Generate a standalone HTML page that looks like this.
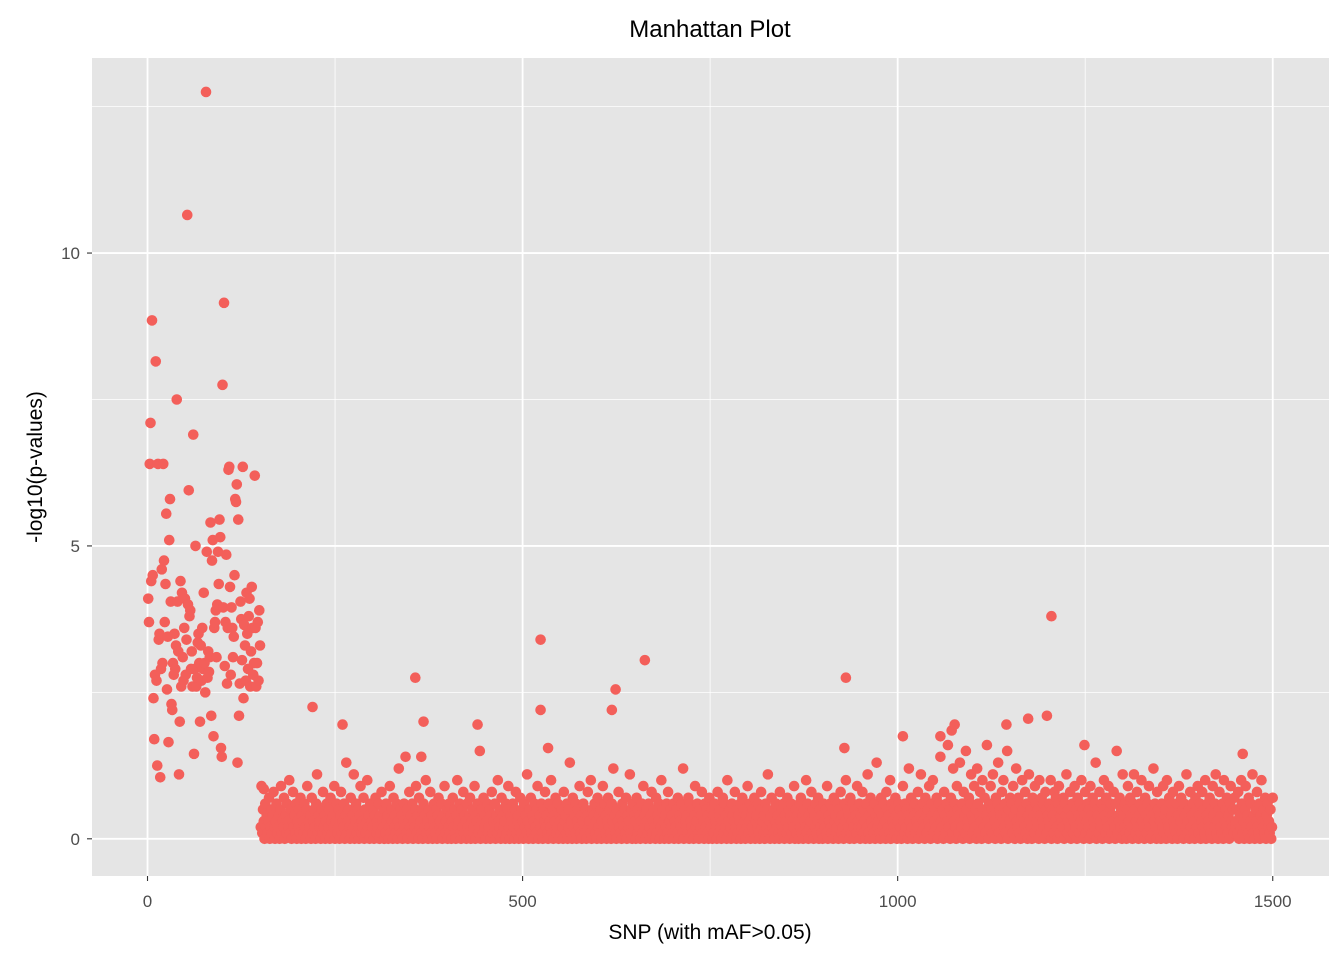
<!DOCTYPE html>
<html><head><meta charset="utf-8"><style>
html,body{margin:0;padding:0;background:#fff;}
svg text{font-family:"Liberation Sans",Arial,sans-serif;}
</style></head><body>
<svg id="chart" width="1344" height="960" xmlns="http://www.w3.org/2000/svg"></svg>
<script>
// SNP 1..150 values (-log10 p)
const earlyVal = [4.1,3.7,6.4,7.1,4.4,8.85,4.5,2.4,1.7,2.8,8.15,2.7,1.25,6.4,3.4,3.5,1.05,2.9,4.6,3.0,6.4,4.75,3.7,4.35,5.55,2.55,3.45,1.65,5.1,5.8,4.05,2.3,2.2,3.0,2.8,3.5,2.9,3.3,7.5,4.05,3.2,1.1,2.0,4.4,2.6,4.2,3.1,2.7,3.6,4.1,2.8,3.4,10.65,4.0,5.95,3.8,3.9,2.9,3.2,2.6,6.9,1.45,2.9,5.0,2.6,2.75,3.35,3.5,3.0,2.0,3.3,2.7,3.6,2.9,4.2,3.0,2.5,12.75,4.9,2.75,3.2,2.85,3.1,5.4,2.1,4.75,5.1,1.75,3.6,3.7,3.9,3.1,4.0,4.9,4.35,5.45,5.15,1.55,1.4,7.75,3.95,9.15,2.95,3.7,4.85,2.65,3.6,6.3,6.35,4.3,2.8,3.95,3.6,3.1,3.45,4.5,5.8,5.75,6.05,1.3,5.45,2.1,2.65,4.05,3.75,3.05,6.35,2.4,3.65,3.3,2.7,4.2,3.5,2.9,3.8,4.1,2.6,3.2,4.3,3.6,2.8,3.0,6.2,3.6,2.6,3.0,3.7,2.7,3.9,3.3];
// SNP 151..1500 values
const floorVal = [
0.2,0.9,0.1,0.5,0.3,0.0,0.6,0.2,0.4,0.1,0.3,0.7,0.0,0.2,0.5,0.1,0.4,0.8,0.2,0.0,0.3,0.6,0.1,0.2,0.4,0.0,0.5,0.9,0.1,0.3,0.2,0.7,0.0,0.4,0.1,0.6,0.3,0.2,1.0,0.1,0.5,0.0,0.3,0.8,0.2,0.4,0.1,0.6,0.0,0.3,
0.2,0.5,0.1,0.7,0.0,0.4,0.3,0.1,0.6,0.2,0.0,0.5,0.9,0.1,0.3,0.2,0.4,0.0,0.7,0.1,0.3,0.5,0.2,0.0,0.6,1.1,0.1,0.4,0.2,0.3,0.0,0.5,0.1,0.8,0.2,0.4,0.0,0.3,0.6,0.1,0.2,0.5,0.0,0.7,0.3,0.1,0.4,0.2,0.9,0.0,
0.3,0.6,0.1,0.2,0.5,0.0,0.4,0.8,0.1,0.3,0.2,0.6,0.0,0.4,1.3,0.1,0.3,0.5,0.2,0.0,0.7,0.1,0.4,0.2,1.1,0.0,0.3,0.6,0.1,0.5,0.2,0.0,0.4,0.9,0.1,0.3,0.2,0.7,0.0,0.5,0.1,0.3,1.0,0.2,0.4,0.0,0.6,0.1,0.3,0.2,
0.5,0.0,0.4,0.7,0.1,0.3,0.2,0.6,0.0,0.4,0.1,0.8,0.3,0.2,0.5,0.0,0.1,0.6,0.3,0.4,0.0,0.2,0.9,0.1,0.5,0.3,0.0,0.7,0.2,0.4,0.1,0.6,0.0,0.3,1.2,0.2,0.5,0.1,0.4,0.0,0.3,0.6,0.2,1.4,0.1,0.5,0.0,0.3,0.8,0.2,
0.4,0.1,0.6,0.0,0.3,0.2,0.5,0.9,0.1,0.4,0.0,0.7,0.2,0.3,0.1,0.5,0.0,0.6,0.2,0.4,1.0,0.1,0.3,0.0,0.5,0.2,0.8,0.1,0.4,0.0,0.3,0.6,0.2,0.1,0.5,0.0,0.4,0.7,0.2,0.3,0.1,0.6,0.0,0.4,0.2,0.9,0.1,0.3,0.5,0.0,
0.2,0.6,0.1,0.4,0.0,0.3,0.7,0.2,0.5,0.1,0.0,0.4,1.0,0.2,0.3,0.6,0.1,0.0,0.5,0.2,0.8,0.1,0.4,0.3,0.0,0.6,0.2,0.1,0.4,0.7,0.0,0.3,0.5,0.1,0.2,0.9,0.0,0.4,0.3,0.6,0.1,0.2,1.5,0.0,0.5,0.3,0.1,0.7,0.2,0.4,
0.0,0.3,0.6,0.1,0.2,0.5,0.0,0.4,0.8,0.1,0.3,0.2,0.6,0.0,0.4,0.1,1.0,0.3,0.2,0.5,0.0,0.7,0.1,0.4,0.2,0.3,0.0,0.6,0.1,0.5,0.9,0.2,0.0,0.4,0.3,0.1,0.6,0.2,0.0,0.5,0.8,0.1,0.3,0.4,0.0,0.2,0.7,0.1,0.5,0.3,
0.0,0.6,0.2,0.4,0.1,1.1,0.3,0.0,0.5,0.2,0.7,0.1,0.4,0.0,0.3,0.6,0.2,0.1,0.5,0.9,0.0,0.3,0.4,0.2,0.6,0.1,0.0,0.5,0.3,0.8,0.2,0.4,0.1,0.0,0.6,0.3,0.2,1.0,0.1,0.5,0.0,0.4,0.3,0.7,0.1,0.2,0.6,0.0,0.4,0.3,
0.1,0.5,0.2,0.0,0.8,0.3,0.4,0.1,0.6,0.0,0.2,0.5,1.3,0.1,0.3,0.0,0.7,0.2,0.4,0.1,0.6,0.0,0.3,0.5,0.2,0.9,0.1,0.4,0.0,0.3,0.6,0.2,0.1,0.5,0.0,0.4,0.8,0.2,0.3,0.1,1.0,0.0,0.5,0.2,0.4,0.6,0.1,0.3,0.0,0.7,
0.2,0.4,0.1,0.5,0.0,0.3,0.9,0.2,0.6,0.1,0.4,0.0,0.3,0.7,0.2,0.5,0.1,0.0,0.6,0.3,1.2,0.2,0.4,0.1,0.0,0.5,0.3,0.8,0.2,0.1,0.4,0.0,0.6,0.3,0.2,0.5,0.1,0.7,0.0,0.4,0.2,0.3,1.1,0.1,0.5,0.0,0.6,0.2,0.4,0.3,
0.0,0.7,0.1,0.5,0.2,0.4,0.0,0.3,0.6,0.1,0.9,0.2,0.4,0.0,0.5,0.3,0.1,0.6,0.2,0.0,0.4,0.8,0.1,0.3,0.5,0.2,0.0,0.7,0.1,0.4,0.3,0.6,0.0,0.2,1.0,0.1,0.5,0.3,0.0,0.4,0.2,0.6,0.1,0.8,0.0,0.3,0.5,0.2,0.4,0.1,
0.6,0.0,0.3,0.2,0.5,0.1,0.7,0.0,0.4,0.3,0.2,0.6,0.1,1.2,0.0,0.5,0.3,0.2,0.4,0.1,0.7,0.0,0.6,0.3,0.2,0.5,0.1,0.0,0.4,0.9,0.2,0.3,0.6,0.1,0.0,0.5,0.2,0.4,0.8,0.1,0.3,0.0,0.6,0.2,0.5,0.1,0.4,0.0,0.7,0.3,
0.2,0.5,0.0,0.4,0.1,0.6,0.3,0.2,0.0,0.8,0.1,0.4,0.5,0.2,0.0,0.3,0.7,0.1,0.6,0.2,0.4,0.0,1.0,0.3,0.1,0.5,0.2,0.0,0.6,0.4,0.1,0.3,0.8,0.2,0.0,0.5,0.1,0.4,0.3,0.6,0.0,0.2,0.7,0.1,0.5,0.3,0.0,0.4,0.2,0.9,
0.1,0.3,0.6,0.0,0.4,0.2,0.5,0.1,0.7,0.0,0.3,0.4,0.2,0.6,0.1,0.0,0.5,0.8,0.2,0.3,0.1,0.4,0.0,0.6,0.2,0.5,1.1,0.1,0.3,0.0,0.4,0.7,0.2,0.1,0.5,0.0,0.3,0.6,0.2,0.4,0.1,0.0,0.8,0.3,0.5,0.2,0.1,0.6,0.0,0.4,
0.3,0.1,0.7,0.2,0.5,0.0,0.4,0.6,0.1,0.3,0.2,0.9,0.0,0.5,0.1,0.4,0.3,0.0,0.6,0.2,0.7,0.1,0.4,0.0,0.5,0.3,0.2,1.0,0.1,0.6,0.0,0.4,0.2,0.3,0.8,0.1,0.5,0.0,0.4,0.2,0.6,0.1,0.3,0.7,0.0,0.5,0.2,0.4,0.1,0.0,
0.6,0.3,0.2,0.5,0.1,0.9,0.0,0.4,0.3,0.6,0.2,0.1,0.5,0.0,0.7,0.3,0.4,0.1,0.2,0.6,0.0,0.5,0.3,0.8,0.1,0.4,0.2,0.0,0.6,0.3,1.0,0.1,0.5,0.2,0.4,0.0,0.7,0.1,0.3,0.6,0.2,0.0,0.5,0.4,0.1,0.9,0.3,0.2,0.6,0.0,
0.4,0.2,0.8,0.1,0.5,0.3,0.0,0.6,0.2,1.1,0.1,0.4,0.0,0.7,0.3,0.5,0.2,0.1,0.6,0.0,0.4,1.3,0.2,0.3,0.5,0.1,0.0,0.7,0.4,0.2,0.6,0.1,0.3,0.0,0.8,0.5,0.2,0.4,0.1,1.0,0.0,0.6,0.3,0.2,0.5,0.1,0.7,0.4,0.0,0.3,
0.6,0.1,0.5,0.2,0.0,0.4,0.9,0.3,0.1,0.6,0.2,0.5,0.0,0.4,1.2,0.3,0.1,0.7,0.2,0.0,0.5,0.4,0.6,0.1,0.3,0.2,0.8,0.0,0.5,0.4,1.1,0.1,0.6,0.3,0.2,0.0,0.7,0.4,0.1,0.5,0.3,0.9,0.2,0.0,0.6,0.4,1.0,0.1,0.3,0.5,
0.2,0.7,0.0,0.4,0.6,0.1,1.4,0.3,0.2,0.5,0.0,0.8,0.4,0.1,0.6,0.3,1.6,0.2,0.5,0.0,0.7,0.4,0.1,1.2,0.3,0.6,0.2,0.0,0.9,0.5,0.1,0.4,1.3,0.3,0.2,0.6,0.0,0.8,0.4,0.1,1.5,0.5,0.3,0.2,0.7,0.0,0.6,1.1,0.4,0.1,
0.3,0.9,0.2,0.5,0.0,1.2,0.6,0.1,0.4,0.8,0.3,0.0,1.0,0.5,0.2,0.7,0.1,0.4,1.6,0.3,0.0,0.6,0.2,0.9,0.5,0.1,1.1,0.4,0.3,0.0,0.7,0.2,0.6,1.3,0.1,0.5,0.4,0.0,0.8,0.3,1.0,0.2,0.6,0.1,0.4,1.5,0.0,0.5,0.3,0.7,
0.2,0.6,0.1,0.9,0.4,0.0,0.5,1.2,0.3,0.2,0.7,0.1,0.6,0.0,0.4,1.0,0.5,0.3,0.2,0.8,0.1,0.6,0.0,0.4,1.1,0.3,0.5,0.2,0.0,0.7,0.4,0.1,0.9,0.6,0.3,0.2,0.5,0.0,1.0,0.4,0.1,0.7,0.3,0.6,0.2,0.0,0.8,0.5,0.1,0.4,
0.3,0.6,0.2,1.0,0.0,0.5,0.4,0.1,0.8,0.3,0.7,0.2,0.0,0.6,0.9,0.1,0.4,0.5,0.3,0.2,0.7,0.0,0.6,0.4,1.1,0.1,0.3,0.5,0.2,0.8,0.0,0.4,0.6,0.1,0.3,0.9,0.2,0.5,0.0,0.7,0.4,0.1,0.6,0.3,1.0,0.2,0.5,0.0,0.4,0.8,
0.1,0.3,0.6,0.2,0.5,0.0,0.9,0.4,0.1,0.7,0.3,0.2,0.6,1.3,0.0,0.5,0.4,0.1,0.8,0.3,0.2,0.6,0.0,0.5,1.0,0.4,0.1,0.7,0.3,0.2,0.9,0.0,0.5,0.6,0.1,0.4,0.3,0.8,0.2,0.0,0.6,1.5,0.1,0.4,0.3,0.7,0.2,0.5,0.0,1.1,
0.4,0.2,0.6,0.1,0.0,0.5,0.9,0.3,0.1,0.7,0.4,0.2,0.0,0.6,1.1,0.5,0.1,0.3,0.8,0.2,0.0,0.4,0.6,0.1,1.0,0.3,0.5,0.2,0.0,0.7,0.4,0.1,0.6,0.3,0.9,0.2,0.0,0.5,0.4,0.1,1.2,0.3,0.6,0.2,0.0,0.8,0.5,0.1,0.4,0.3,
0.0,0.6,0.2,0.9,0.1,0.4,0.5,0.0,1.0,0.3,0.2,0.7,0.1,0.6,0.4,0.0,0.8,0.3,0.2,0.5,0.1,0.6,0.0,0.4,0.9,0.2,0.3,0.7,0.1,0.5,0.0,0.6,0.4,0.2,1.1,0.1,0.3,0.5,0.0,0.8,0.2,0.4,0.6,0.1,0.3,0.0,0.7,0.5,0.2,0.9,
0.1,0.4,0.6,0.0,0.3,0.8,0.2,0.5,0.1,1.0,0.0,0.4,0.6,0.3,0.2,0.7,0.1,0.5,0.0,0.9,0.4,0.2,0.6,1.1,0.1,0.3,0.0,0.5,0.8,0.2,0.4,0.1,0.6,0.0,1.0,0.3,0.5,0.2,0.7,0.1,0.4,0.0,0.6,0.9,0.3,0.2,0.5,0.1,0.7,0.2,
0.3,0.5,0.1,0.8,0.0,0.4,0.2,1.0,0.6,0.1,0.3,0.0,0.5,0.9,0.2,0.4,0.1,0.7,0.0,0.3,0.6,0.2,1.1,0.1,0.4,0.0,0.5,0.3,0.8,0.2,0.1,0.6,0.0,0.4,1.0,0.3,0.2,0.5,0.1,0.7,0.0,0.4,0.6,0.2,0.3,0.1,0.5,0.0,0.2,0.7
];
// Additional visible peaks in the flat region
const peakSnp = [155,220,260,357,368,365,440,524,524,534,619,624,663,931,929,1007,1057,1072,1076,1145,1174,1199,1205,1249,1460];
const peakVal = [0.85,2.25,1.95,2.75,2.0,1.4,1.95,3.4,2.2,1.55,2.2,2.55,3.05,2.75,1.55,1.75,1.75,1.85,1.95,1.95,2.05,2.1,3.8,1.6,1.45];
const xTicks = [0,500,1000,1500];
const yTicks = [0,5,10];

const NS='http://www.w3.org/2000/svg';
const svg=document.getElementById('chart');
const P={l:92,r:1329,t:58,b:876};
const xMin=-74, xMax=1575, yMin=-0.635, yMax=13.33;
const X=v=>P.l+(v-xMin)/(xMax-xMin)*(P.r-P.l);
const Y=v=>P.b-(v-yMin)/(yMax-yMin)*(P.b-P.t);
function mk(tag,attrs,parent){const e=document.createElementNS(NS,tag);for(const k in attrs)e.setAttribute(k,attrs[k]);(parent||svg).appendChild(e);return e;}

const bg=mk('rect',{x:P.l,y:P.t,width:P.r-P.l,height:P.b-P.t,fill:'#E5E5E5'});


const grid=mk('g',{});


for(let i=0;i<xTicks.length-1;i++){const m=(xTicks[i]+xTicks[i+1])/2;mk('line',{x1:X(m),x2:X(m),y1:P.t,y2:P.b,stroke:'#fff','stroke-width':0.8},grid);}
for(let i=0;i<yTicks.length;i++){const m=yTicks[i]+2.5;mk('line',{x1:P.l,x2:P.r,y1:Y(m),y2:Y(m),stroke:'#fff','stroke-width':0.8},grid);}
xTicks.forEach(t=>mk('line',{x1:X(t),x2:X(t),y1:P.t,y2:P.b,stroke:'#fff','stroke-width':1.8},grid));
yTicks.forEach(t=>mk('line',{x1:P.l,x2:P.r,y1:Y(t),y2:Y(t),stroke:'#fff','stroke-width':1.8},grid));

const pts=mk('g',{fill:'#F35F5A'});


function dot(s,v){const c=mk('circle',{cx:X(s),cy:Y(v),r:5.3},pts);

}
earlyVal.forEach((v,i)=>dot(i+1,v));
floorVal.forEach((v,i)=>dot(i+151,v));
peakSnp.forEach((s,i)=>dot(s,peakVal[i]));

const xa=mk('g',{});


xTicks.forEach(t=>{mk('line',{x1:X(t),x2:X(t),y1:P.b,y2:P.b+5,stroke:'#333','stroke-width':1.1},xa);
const tx=mk('text',{x:X(t),y:P.b+31,'text-anchor':'middle','font-size':'17',fill:'#4D4D4D'},xa);tx.textContent=t;

});
const ya=mk('g',{});


yTicks.forEach(t=>{mk('line',{x1:P.l-5,x2:P.l,y1:Y(t),y2:Y(t),stroke:'#333','stroke-width':1.1},ya);
const tx=mk('text',{x:P.l-12,y:Y(t)+6,'text-anchor':'end','font-size':'17',fill:'#4D4D4D'},ya);tx.textContent=t;

});
</script>
<div style="position:absolute;left:0;top:0;width:1344px;height:960px;pointer-events:none;">
<svg width="1344" height="960" xmlns="http://www.w3.org/2000/svg">
<text x="710" y="37" text-anchor="middle" font-size="24" fill="#000" font-family="Liberation Sans, sans-serif">Manhattan Plot</text>
<text x="710" y="939" text-anchor="middle" font-size="21" fill="#000" font-family="Liberation Sans, sans-serif">SNP (with mAF&gt;0.05)</text>
<text transform="translate(42,467) rotate(-90)" text-anchor="middle" font-size="21" fill="#000" font-family="Liberation Sans, sans-serif">-log10(p-values)</text>
</svg></div>
</body></html>
